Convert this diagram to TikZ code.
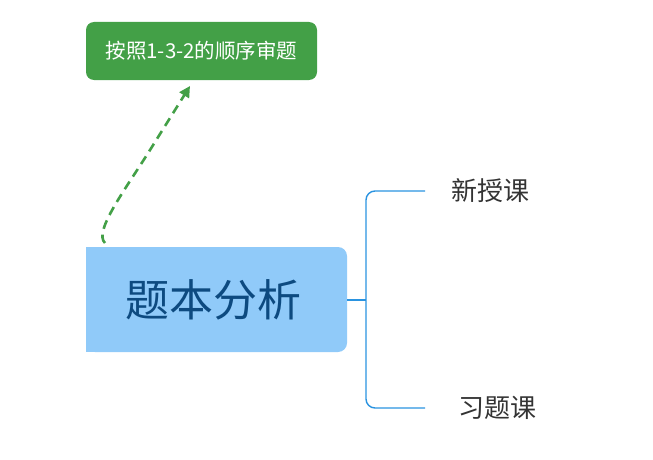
\documentclass[tikz,border=0pt]{standalone}
\usepackage{fontspec}
\newfontfamily\cjk{Noto Sans CJK SC}
\usetikzlibrary{arrows.meta}
\definecolor{gbox}{HTML}{43A047}
\definecolor{bbox}{HTML}{90CAF9}
\definecolor{btext}{HTML}{0D4A80}
\definecolor{bline}{HTML}{2A93E0}
\definecolor{rtext}{HTML}{333333}
\tikzset{
  leaf/.style={font=\cjk\fontsize{26}{28}\selectfont, text=rtext, inner sep=0pt},
  brline/.style={draw=bline, line width=1.4pt, rounded corners=9pt},
}
\begin{document}
\begin{tikzpicture}[x=1pt,y=-1pt]
\useasboundingbox (0,0) rectangle (653,460);
% green box
\fill[gbox, rounded corners=8pt] (86,22) rectangle (317,80);
\node[font=\cjk\fontsize{20.5}{22}\selectfont, text=white, inner sep=0pt] (g) at (201.5,51) {按照1-3-2的顺序审题};
\coordinate (gb) at (190,86);
% blue box
\fill[bbox, rounded corners=9pt] (86,247) rectangle (347,352);
\fill[bbox] (86,247) rectangle (120,352);
\node[font=\cjk\fontsize{44}{48}\selectfont, text=btext, inner sep=0pt] (m) at (213,300) {题本分析};
\coordinate (ms) at (105,243);
\coordinate (mr) at (347,300);
% dashed arrow
\draw[gbox, line width=2.6pt, dash pattern=on 9pt off 6pt, -{Triangle[length=11pt,width=11pt]}]
  (ms) .. controls (93,232) and (125,190) .. (150,150) -- (gb);
% bracket
\coordinate (bx) at (366,300);
\coordinate (t) at (425,191);
\coordinate (b) at (425,408);
\draw[bline, line width=1.4pt] (mr) -- (bx);
\draw[brline] (t) -- (366,191) -- (366,408) -- (b);
\node[leaf] (n1) at (490,191) {新授课};
\node[leaf] (n2) at (497,408) {习题课};
\end{tikzpicture}
\end{document}
